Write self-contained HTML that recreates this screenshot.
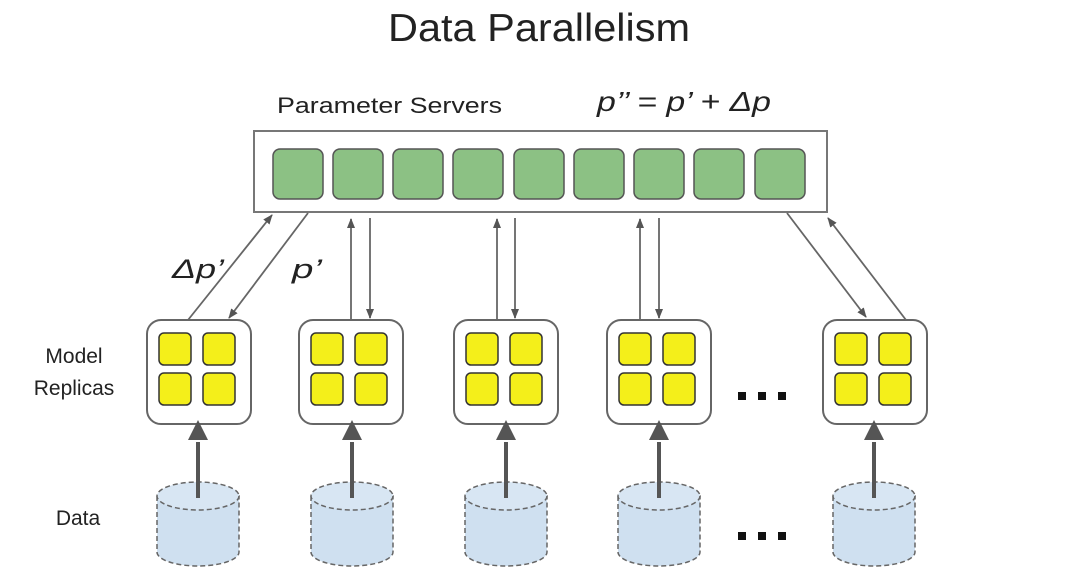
<!DOCTYPE html>
<html><head><meta charset="utf-8"><style>
html,body{margin:0;padding:0;background:#fff;}
svg{display:block;}
text{font-family:"Liberation Sans",sans-serif;fill:#222;}
</style></head><body>
<svg width="1080" height="579" viewBox="0 0 1080 579" xmlns="http://www.w3.org/2000/svg">
<defs>
<marker id="a" markerWidth="10" markerHeight="10" refX="9" refY="5" orient="auto" markerUnits="userSpaceOnUse">
<path d="M0,1 L10,5 L0,9 Z" fill="#555"/></marker>
<g id="rep">
<rect x="0" y="0" width="104" height="104" rx="14" fill="#fff" stroke="#666" stroke-width="2"/>
<rect x="12" y="13" width="32" height="32" rx="5" fill="#f4ef1a" stroke="#333" stroke-width="1.5"/>
<rect x="56" y="13" width="32" height="32" rx="5" fill="#f4ef1a" stroke="#333" stroke-width="1.5"/>
<rect x="12" y="53" width="32" height="32" rx="5" fill="#f4ef1a" stroke="#333" stroke-width="1.5"/>
<rect x="56" y="53" width="32" height="32" rx="5" fill="#f4ef1a" stroke="#333" stroke-width="1.5"/>
</g>
<g id="cyl">
<path d="M-41,14 L-41,70 A41,14 0 0 0 41,70 L41,14 Z" fill="#cfe0f0" stroke="#666" stroke-width="1.5" stroke-dasharray="5,3"/>
<ellipse cx="0" cy="14" rx="41" ry="14" fill="#d8e6f3" stroke="#666" stroke-width="1.5" stroke-dasharray="5,3"/>
<line x1="0" y1="16" x2="0" y2="-40" stroke="#555" stroke-width="4"/>
<path d="M-10,-42 L10,-42 L0,-62 Z" fill="#555"/>
</g>
</defs>
<text x="388" y="41" font-size="39" textLength="302" lengthAdjust="spacingAndGlyphs">Data Parallelism</text>
<text x="277" y="113" font-size="22" textLength="225" lengthAdjust="spacingAndGlyphs">Parameter Servers</text>
<text x="597" y="111" font-size="28" font-style="italic" textLength="174" lengthAdjust="spacingAndGlyphs">p’’ = p’ + Δp</text>
<rect x="254" y="131" width="573" height="81" fill="#fff" stroke="#777" stroke-width="2"/>
<g fill="#8cc184" stroke="#555" stroke-width="1.5">
<rect x="273" y="149" width="50" height="50" rx="7"/>
<rect x="333" y="149" width="50" height="50" rx="7"/>
<rect x="393" y="149" width="50" height="50" rx="7"/>
<rect x="453" y="149" width="50" height="50" rx="7"/>
<rect x="514" y="149" width="50" height="50" rx="7"/>
<rect x="574" y="149" width="50" height="50" rx="7"/>
<rect x="634" y="149" width="50" height="50" rx="7"/>
<rect x="694" y="149" width="50" height="50" rx="7"/>
<rect x="755" y="149" width="50" height="50" rx="7"/>
</g>
<g stroke="#666" stroke-width="1.8" marker-end="url(#a)">
<line x1="188" y1="320" x2="272" y2="215"/>
<line x1="308" y1="213" x2="229" y2="318"/>
<line x1="351" y1="320" x2="351" y2="219"/>
<line x1="370" y1="218" x2="370" y2="318"/>
<line x1="497" y1="320" x2="497" y2="219"/>
<line x1="515" y1="218" x2="515" y2="318"/>
<line x1="640" y1="320" x2="640" y2="219"/>
<line x1="659" y1="218" x2="659" y2="318"/>
<line x1="787" y1="213" x2="866" y2="317"/>
<line x1="906" y1="320" x2="828" y2="218"/>
</g>
<text x="172" y="278" font-size="27" font-style="italic" textLength="52" lengthAdjust="spacingAndGlyphs">Δp’</text>
<text x="292" y="278" font-size="27" font-style="italic" textLength="30" lengthAdjust="spacingAndGlyphs">p’</text>
<use href="#rep" x="147" y="320"/>
<use href="#rep" x="299" y="320"/>
<use href="#rep" x="454" y="320"/>
<use href="#rep" x="607" y="320"/>
<use href="#rep" x="823" y="320"/>
<use href="#cyl" x="198" y="482"/>
<use href="#cyl" x="352" y="482"/>
<use href="#cyl" x="506" y="482"/>
<use href="#cyl" x="659" y="482"/>
<use href="#cyl" x="874" y="482"/>
<g fill="#111">
<rect x="738" y="392" width="8" height="8"/><rect x="758" y="392" width="8" height="8"/><rect x="778" y="392" width="8" height="8"/>
<rect x="738" y="532" width="8" height="8"/><rect x="758" y="532" width="8" height="8"/><rect x="778" y="532" width="8" height="8"/>
</g>
<text x="74" y="363" font-size="21" text-anchor="middle">Model</text>
<text x="74" y="395" font-size="21" text-anchor="middle">Replicas</text>
<text x="78" y="525" font-size="21" text-anchor="middle">Data</text>
</svg>
</body></html>
